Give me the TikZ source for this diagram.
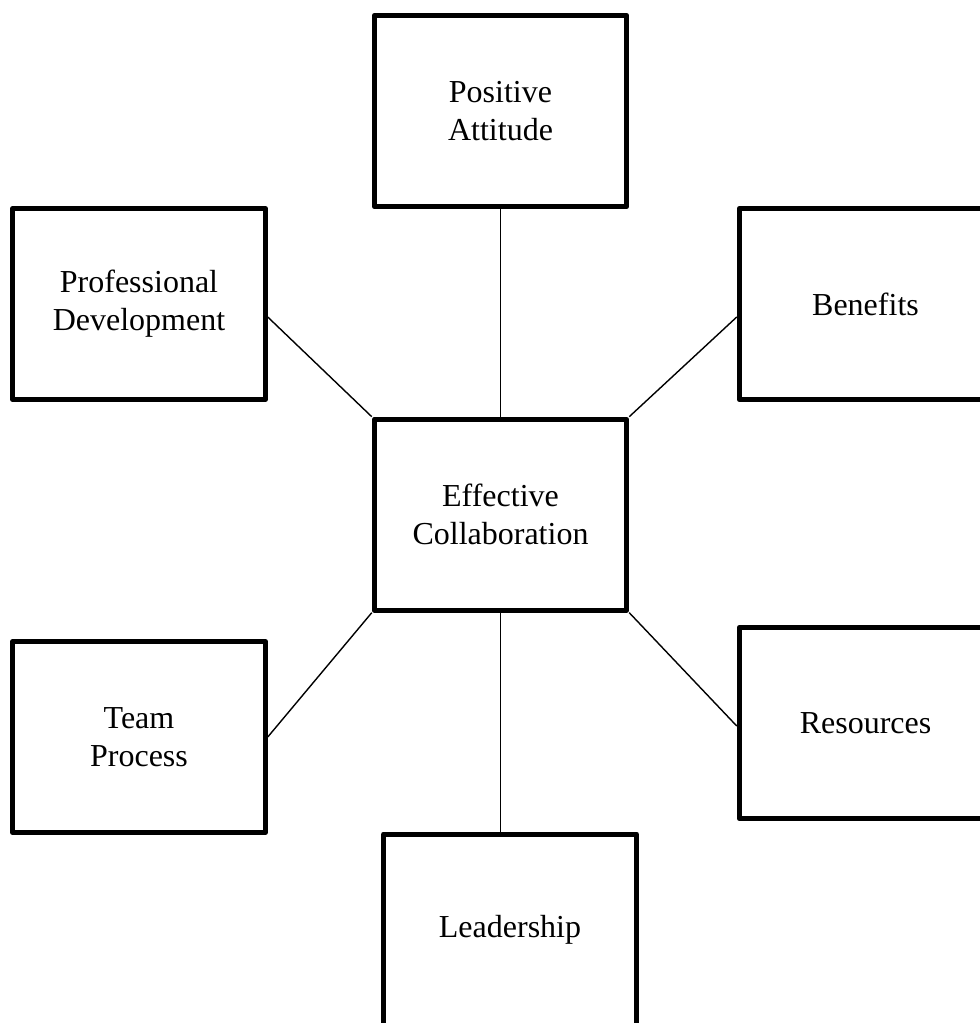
\documentclass[tikz,border=0pt]{standalone}
\usepackage{fontspec}
\setmainfont{Liberation Serif}
\begin{document}
\begin{tikzpicture}[x=1pt,y=-1pt,
  topic/.style={draw, line width=5pt, line join=round, inner sep=0pt,
    minimum width=252.5pt, minimum height=191pt, align=center,
    font=\fontsize{32}{38}\selectfont},
  link/.style={line width=1.4pt}]
\useasboundingbox (0,0) rectangle (980,1023);
\clip (0,0) rectangle (980,1023);

% hub
\node[topic] (ec) at (500.5,514.7) {Effective\\Collaboration};

% surrounding topics
\node[topic] (pa) at (500.5,111)  {Positive\\Attitude};
\node[topic] (pd) at (139,304)    {Professional\\Development};
\node[topic] (be) at (865.5,304)  {Benefits};
\node[topic] (tp) at (139,737)    {Team\\Process};
\node[topic] (re) at (865.5,723)  {Resources};
\node[topic] (le) at (510,929.5)  {Leadership};

% spokes
\draw[link] (pa.south) -- (ec.north);
\draw[link] ([yshift=-13pt]pd.east) -- (ec.north west);
\draw[link] ([yshift=-13pt]be.west) -- (ec.north east);
\draw[link] (tp.east) -- (ec.south west);
\draw[link] ([yshift=-3pt]re.west) -- (ec.south east);
\draw[link] (ec.south) -- (ec.south |- le.north);
\end{tikzpicture}
\end{document}
